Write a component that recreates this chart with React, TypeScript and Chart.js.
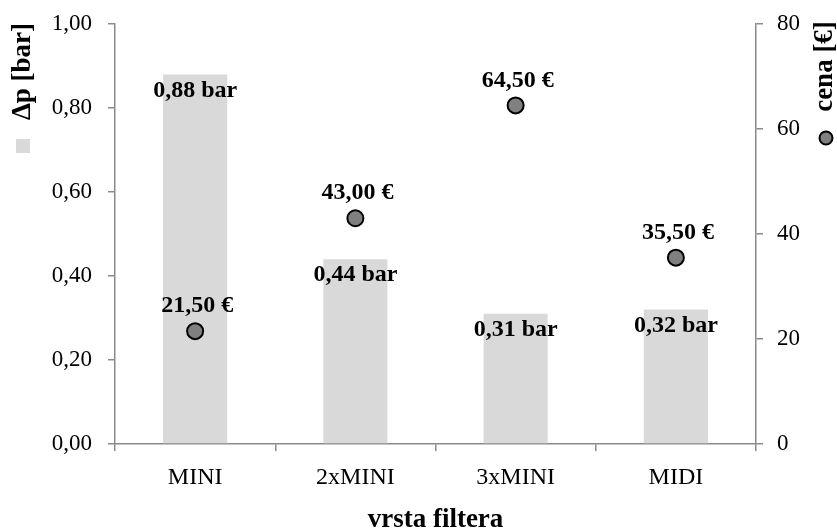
import React, { useEffect, useRef } from "react";
import { Chart, registerables } from "chart.js";

Chart.register(...registerables);

// Filter types and measured values
const categories = ["MINI", "2xMINI", "3xMINI", "MIDI"];
const pressureDrop = [0.88, 0.44, 0.31, 0.32]; // Δp [bar]
const price = [21.5, 43.0, 64.5, 35.5]; // cena [€]

const FONT = "'Liberation Serif', 'Times New Roman', serif";
const AXIS_GRAY = "#8a8a8a";
const BAR_GRAY = "#d9d9d9";
const POINT_GRAY = "#808080";

const fmt = (v: number) => v.toFixed(2).replace(".", ",");

// Draws the value labels, the rotated axis titles with their legend keys and the x-axis title
const annotationsPlugin = {
  id: "annotations",
  afterDatasetsDraw(chart: any) {
    const { ctx, chartArea } = chart;
    ctx.save();
    ctx.fillStyle = "#000";
    ctx.textAlign = "center";
    ctx.textBaseline = "middle";
    ctx.font = `bold 24px ${FONT}`;

    const barMeta = chart.getDatasetMeta(0);
    barMeta.data.forEach((el: any, i: number) => {
      ctx.fillText(`${fmt(pressureDrop[i])} bar`, el.x, el.y + 16);
    });

    const ptMeta = chart.getDatasetMeta(1);
    ptMeta.data.forEach((el: any, i: number) => {
      ctx.fillText(`${fmt(price[i])} €`, el.x + 2, el.y - 25);
    });

    // x-axis title
    ctx.font = `bold 27px ${FONT}`;
    ctx.textBaseline = "alphabetic";
    ctx.fillText("vrsta filtera", (chartArea.left + chartArea.right) / 2, 527);

    // left axis title
    ctx.save();
    ctx.translate(30, 71.5);
    ctx.rotate(-Math.PI / 2);
    ctx.fillText("Δp [bar]", 0, 0);
    ctx.restore();
    ctx.fillStyle = BAR_GRAY;
    ctx.fillRect(16, 139, 14, 14);

    // right axis title
    ctx.fillStyle = "#000";
    ctx.save();
    ctx.translate(832, 66.5);
    ctx.rotate(-Math.PI / 2);
    ctx.fillText("cena [€]", 0, 0);
    ctx.restore();
    ctx.beginPath();
    ctx.arc(826, 138, 6.5, 0, Math.PI * 2);
    ctx.fillStyle = POINT_GRAY;
    ctx.fill();
    ctx.lineWidth = 2;
    ctx.strokeStyle = "#000";
    ctx.stroke();

    ctx.restore();
  },
};

const axisGrid = {
  display: true,
  drawOnChartArea: false,
  drawTicks: true,
  tickLength: 7,
  color: AXIS_GRAY,
  lineWidth: 1.5,
};

// Fix the axis box sizes so the plot area sits at a fixed place on the canvas
const fixBox = (w: number | null, h: number | null) => (s: any) => {
  if (w !== null) s.width = w;
  if (h !== null) s.height = h;
  s.paddingTop = 0;
  s.paddingBottom = 0;
  s.paddingLeft = 0;
  s.paddingRight = 0;
};

export default function App() {
  const canvasRef = useRef<HTMLCanvasElement | null>(null);

  useEffect(() => {
    if (!canvasRef.current) return;
    const chart = new Chart(canvasRef.current, {
      type: "bar",
      data: {
        labels: categories,
        datasets: [
          {
            type: "bar",
            label: "Δp [bar]",
            data: pressureDrop,
            backgroundColor: BAR_GRAY,
            borderWidth: 0,
            barPercentage: 0.4,
            categoryPercentage: 1,
            yAxisID: "y",
            order: 2,
          },
          {
            type: "line",
            label: "cena [€]",
            data: price,
            showLine: false,
            pointRadius: 8,
            pointBackgroundColor: POINT_GRAY,
            pointBorderColor: "#000",
            pointBorderWidth: 2,
            yAxisID: "y2",
            order: 1,
          } as any,
        ],
      },
      options: {
        responsive: false,
        animation: false,
        devicePixelRatio: 1,
        layout: { padding: { top: 24, left: 0, right: 0, bottom: 0 } },
        plugins: {
          legend: { display: false },
          tooltip: { enabled: false },
        },
        scales: {
          x: {
            offset: true,
            grid: { ...axisGrid, offset: true },
            border: { display: true, color: AXIS_GRAY, width: 1.5 },
            ticks: { color: "#000", font: { family: FONT, size: 24 }, padding: 12 },
            afterFit: fixBox(null, 86),
          },
          y: {
            position: "left",
            min: 0,
            max: 1,
            grid: axisGrid,
            border: { display: true, color: AXIS_GRAY, width: 1.5 },
            ticks: {
              stepSize: 0.2,
              color: "#000",
              font: { family: FONT, size: 23 },
              padding: 16,
              callback: (v: any) => fmt(Number(v)),
            },
            afterFit: fixBox(115, null),
          },
          y2: {
            position: "right",
            min: 0,
            max: 80,
            grid: axisGrid,
            border: { display: true, color: AXIS_GRAY, width: 1.5 },
            ticks: {
              stepSize: 20,
              color: "#000",
              font: { family: FONT, size: 23 },
              padding: 14,
            },
            afterFit: fixBox(81, null),
          },
        },
      } as any,
      plugins: [annotationsPlugin],
    });
    return () => chart.destroy();
  }, []);

  return (
    <div style={{ position: "absolute", left: 0, top: 0, width: 837, height: 530, background: "#fff" }}>
      <canvas ref={canvasRef} width={837} height={530} style={{ display: "block" }} />
    </div>
  );
}
